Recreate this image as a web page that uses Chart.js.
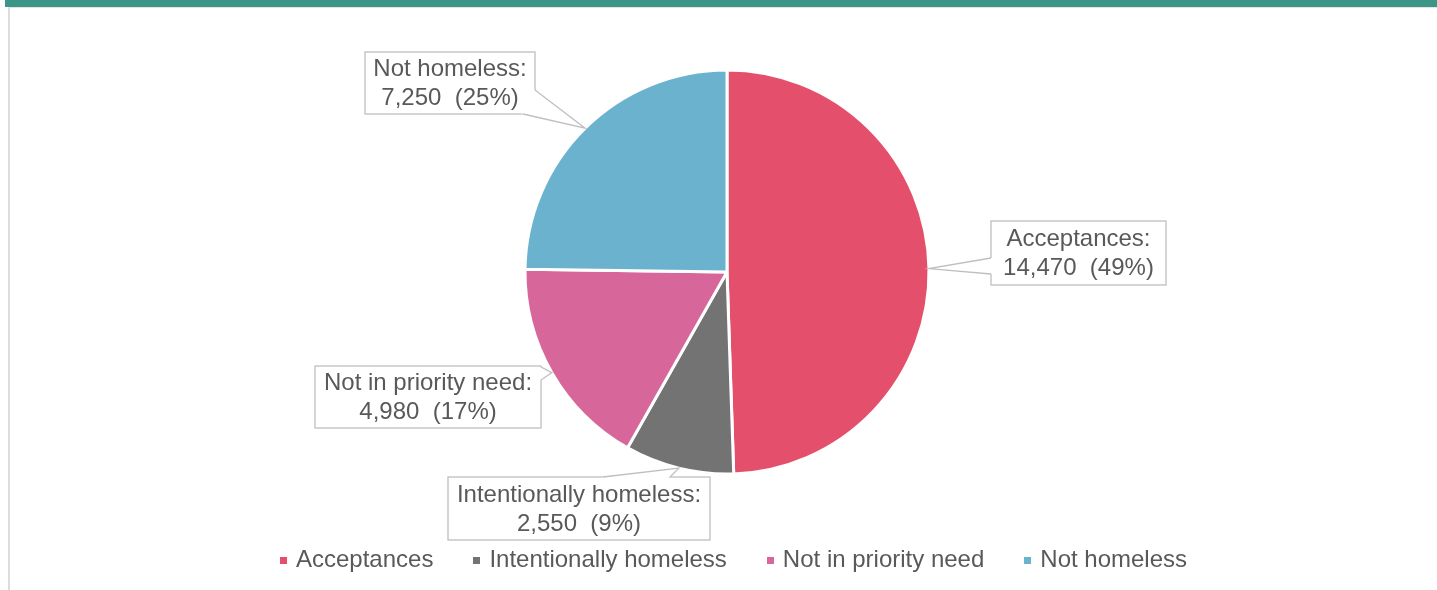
<!DOCTYPE html>
<html>
<head>
<meta charset="utf-8">
<script src="https://cdn.jsdelivr.net/npm/chart.js@4/dist/chart.umd.min.js"></script>
<style>
  html, body { margin: 0; padding: 0; background: #ffffff; overflow: hidden; }
  #page { position: relative; width: 1437px; height: 590px; }
  #band { position: absolute; left: 5px; top: 0; width: 1432px; height: 7px; background: #3c9687; }
  #frame { position: absolute; left: 8px; top: 7px; width: 1429px; height: 583px;
           border-left: 2px solid #dcdcdc; border-top: 1px solid #e4e4e4; box-sizing: border-box; }
  #wrap { position: absolute; left: 0; top: 0; width: 1437px; height: 590px; }
</style>
</head>
<body>
<div id="page">
  <div id="band"></div>
  <div id="frame"></div>
  <div id="wrap"><canvas id="chart"></canvas></div>
</div>
<script>
// Homelessness decisions by outcome
const categories = ['Acceptances', 'Intentionally homeless', 'Not in priority need', 'Not homeless'];
const decisions = [14470, 2550, 4980, 7250];
const sliceColors = ['#e4506c', '#737373', '#d7679a', '#6bb2cf'];

// Callout boxes (label placement) and where each pointer leaves its box
const calloutLayout = [
  { x: 991, y: 221, w: 175, h: 64, base: [[991, 258], [991, 274]] },
  { x: 448, y: 477, w: 262, h: 63, base: [[603, 477], [670, 477]] },
  { x: 315, y: 366, w: 226, h: 62, base: [[541, 367], [541, 380]] },
  { x: 365, y: 52,  w: 170, h: 62, base: [[535, 90], [523, 114]] }
];

const FONT = '"Liberation Sans", Arial, sans-serif';
const FONT_SIZE = 24;
const TEXT_COLOR = '#595959';
const BOX_BORDER = '#bfbfbf';
const MARKER_SIZE = 7;

const total = decisions.reduce((a, b) => a + b, 0);

// small filled square used as the legend marker
function squareMarker(color) {
  const c = document.createElement('canvas');
  c.width = MARKER_SIZE;
  c.height = MARKER_SIZE;
  const g = c.getContext('2d');
  g.fillStyle = color;
  g.fillRect(0, 0, MARKER_SIZE, MARKER_SIZE);
  return c;
}

const calloutPlugin = {
  id: 'callouts',
  afterDatasetsDraw(chart) {
    const ctx = chart.ctx;
    const meta = chart.getDatasetMeta(0);
    meta.data.forEach((arc, i) => {
      const p = arc.getProps(['x', 'y', 'startAngle', 'endAngle', 'outerRadius'], true);
      const mid = (p.startAngle + p.endAngle) / 2;
      const tip = [p.x + Math.cos(mid) * p.outerRadius, p.y + Math.sin(mid) * p.outerRadius];
      const b = calloutLayout[i];
      const [b1, b2] = b.base;

      ctx.save();
      // box
      ctx.fillStyle = '#ffffff';
      ctx.strokeStyle = BOX_BORDER;
      ctx.lineWidth = 1.3;
      ctx.fillRect(b.x, b.y, b.w, b.h);
      ctx.strokeRect(b.x, b.y, b.w, b.h);
      // open the border where the pointer joins
      const cx = b.x + b.w / 2, cy = b.y + b.h / 2;
      const inward = (pt) => {
        const dx = cx - pt[0], dy = cy - pt[1];
        const len = Math.hypot(dx, dy);
        return [pt[0] + dx / len * 3, pt[1] + dy / len * 3];
      };
      const i1 = inward(b1), i2 = inward(b2);
      ctx.beginPath();
      ctx.moveTo(i1[0], i1[1]);
      ctx.lineTo(b1[0], b1[1]);
      ctx.lineTo(tip[0], tip[1]);
      ctx.lineTo(b2[0], b2[1]);
      ctx.lineTo(i2[0], i2[1]);
      ctx.closePath();
      ctx.fill();
      // pointer sides
      ctx.beginPath();
      ctx.moveTo(b1[0], b1[1]);
      ctx.lineTo(tip[0], tip[1]);
      ctx.lineTo(b2[0], b2[1]);
      ctx.stroke();

      // text
      const value = decisions[i];
      const pct = Math.round(value / total * 100);
      const lines = [categories[i] + ':', value.toLocaleString('en-US') + '  (' + pct + '%)'];
      ctx.fillStyle = TEXT_COLOR;
      ctx.font = FONT_SIZE + 'px ' + FONT;
      ctx.textAlign = 'center';
      ctx.textBaseline = 'middle';
      const lh = 29;
      lines.forEach((t, k) => {
        ctx.fillText(t, cx, cy + (k - 0.5) * lh + 1);
      });
      ctx.restore();
    });
  }
};

new Chart(document.getElementById('chart'), {
  type: 'pie',
  data: {
    labels: categories,
    datasets: [{
      data: decisions,
      backgroundColor: sliceColors,
      borderColor: '#ffffff',
      borderWidth: 3
    }]
  },
  options: {
    responsive: true,
    maintainAspectRatio: false,
    animation: false,
    radius: 202,
    layout: { padding: { left: 33, right: 0, top: 39, bottom: 8 } },
    plugins: {
      tooltip: { enabled: false },
      // empty spacer on the right of the plot so the pie sits left of the legend's centre
      title: {
        display: true,
        text: ' ',
        position: 'right',
        fullSize: false,
        font: { size: 1, lineHeight: 1 },
        padding: { top: 7.5, bottom: 7.5 }
      },
      legend: {
        position: 'bottom',
        align: 'center',
        labels: {
          usePointStyle: true,
          pointStyleWidth: 1,
          boxWidth: MARKER_SIZE,
          boxHeight: MARKER_SIZE,
          padding: 43,
          color: TEXT_COLOR,
          font: { family: FONT, size: FONT_SIZE },
          generateLabels(chart) {
            const items = Chart.overrides.pie.plugins.legend.labels.generateLabels(chart);
            items.forEach((it, i) => {
              it.lineWidth = 0;
              it.pointStyle = squareMarker(sliceColors[i]);
            });
            return items;
          }
        }
      }
    }
  },
  plugins: [calloutPlugin]
});
</script>
</body>
</html>
